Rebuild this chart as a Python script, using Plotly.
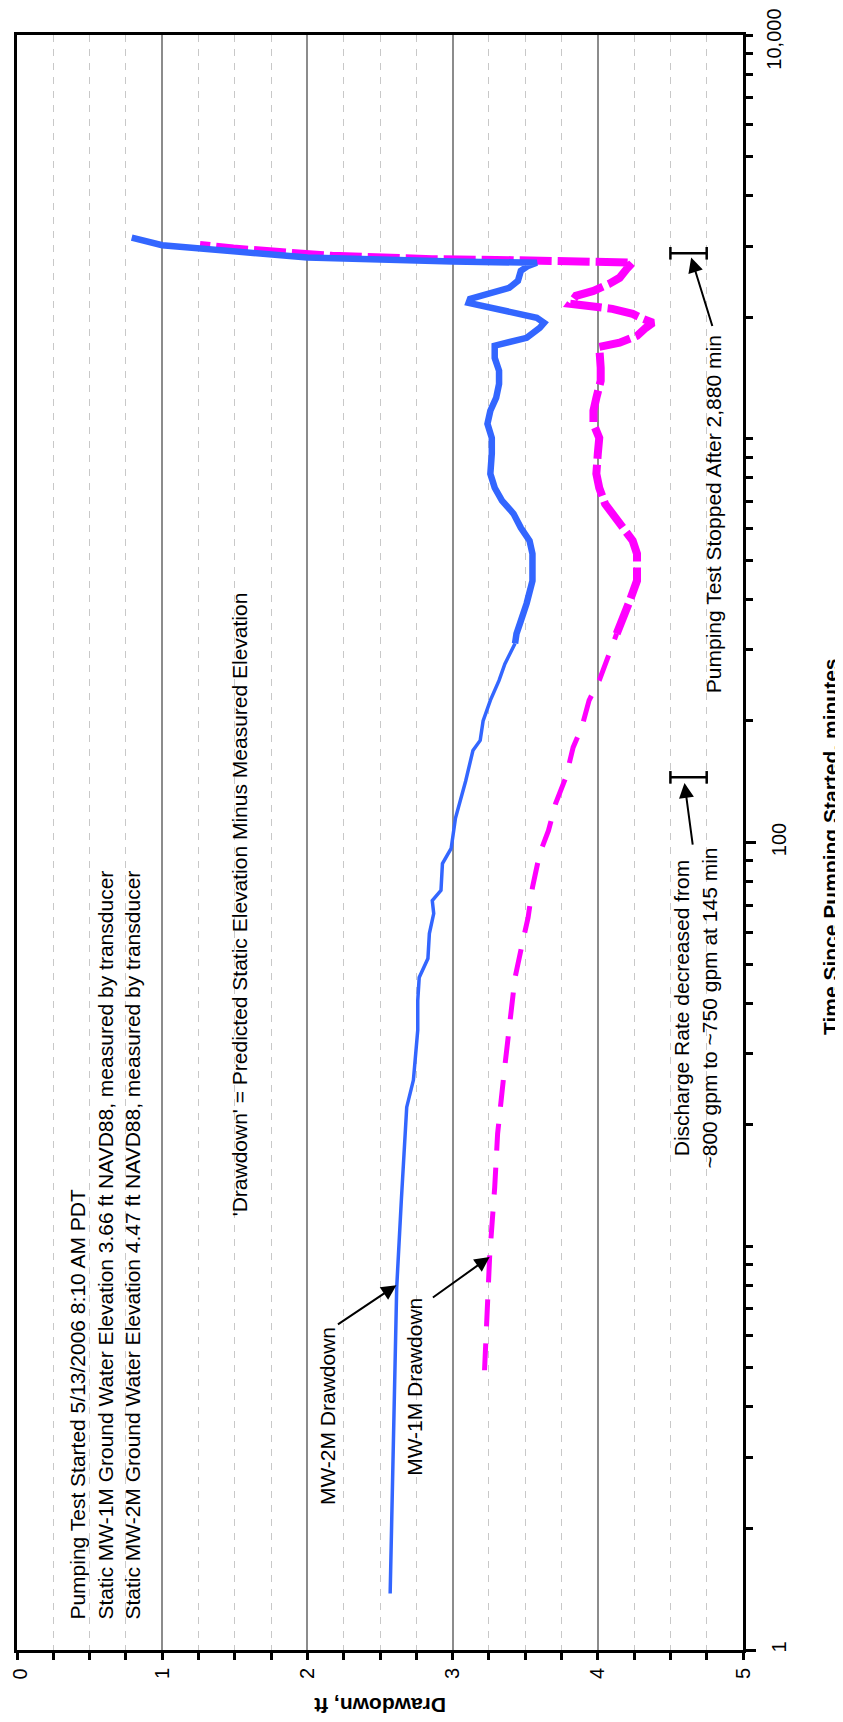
import plotly.graph_objects as go

# ---------------- data ----------------
# MW-2M drawdown (time in minutes, drawdown in ft)
mw2m_time = [1.38, 2.1, 4.16, 7.9, 13.0, 22.1, 25.8, 31.8, 34.3, 40.6, 46.3, 51.6, 59.5,
             66.7, 71.8, 76.1, 88.7, 96.7, 115, 142, 169, 179, 200, 225, 252, 277, 311,
             329, 354, 391, 445, 519, 559, 602, 652, 703, 756, 819, 918, 1005, 1089,
             1173, 1263, 1368, 1473, 1586, 1700, 1729, 1778, 1882, 1937, 1993, 2050,
             2110, 2171, 2221, 2287, 2364, 2461, 2606, 2680, 2728, 2747, 2811, 3016, 3148]
mw2m_drawdown = [2.57, 2.58, 2.60, 2.615, 2.647, 2.684, 2.73, 2.753, 2.76, 2.76, 2.77, 2.83,
                 2.84, 2.87, 2.86, 2.92, 2.93, 2.99, 3.02, 3.09, 3.14, 3.19, 3.21, 3.26,
                 3.32, 3.36, 3.43, 3.44, 3.47, 3.51, 3.55, 3.55, 3.53, 3.47, 3.42, 3.34,
                 3.29, 3.26, 3.27, 3.27, 3.24, 3.26, 3.30, 3.32, 3.32, 3.29, 3.29, 3.37,
                 3.51, 3.60, 3.63, 3.58, 3.42, 3.23, 3.11, 3.12, 3.23, 3.39, 3.45, 3.47,
                 3.52, 3.58, 3.00, 2.00, 1.00, 0.79]

# MW-1M drawdown
mw1m_time = [4.93, 9.41, 14.0, 19.0, 27.0, 36.5, 46.3, 56.2, 65.2, 77.4, 93.9, 107, 125,
             145, 172, 193, 225, 252, 287, 329, 375, 397, 445, 519, 559, 602, 652, 690,
             756, 819, 918, 1005, 1089, 1173, 1263, 1392, 1499, 1623, 1688, 1729, 1798,
             1882, 1937, 1982, 2039, 2098, 2135, 2159, 2260, 2324, 2420, 2504, 2636,
             2731, 2769, 2785, 2838, 2892, 2958, 3020]
mw1m_drawdown = [3.22, 3.255, 3.29, 3.31, 3.355, 3.40, 3.43, 3.48, 3.52, 3.55, 3.60, 3.66,
                 3.71, 3.78, 3.83, 3.89, 3.94, 4.01, 4.07, 4.13, 4.20, 4.22, 4.27, 4.27,
                 4.24, 4.17, 4.10, 4.05, 4.01, 3.99, 4.00, 4.01, 3.97, 3.97, 3.99, 4.02,
                 4.02, 4.01, 4.01, 4.15, 4.27, 4.33, 4.38, 4.31, 4.24, 4.10, 3.97, 3.81,
                 3.85, 3.97, 4.08, 4.15, 4.20, 4.24, 3.41, 2.86, 2.17, 1.79, 1.49, 1.26]

# Event markers (minutes) and the drawdown extent of their marker bars
event_times = [145, 2880]
event_bar_drawdown = [4.5, 4.75]

# Axis ticks
drawdown_ticks = [0, 1, 2, 3, 4, 5]
drawdown_ticktext = ["0", "1", "2", "3", "4", "5"]
time_ticks = [1, 100, 10000]
time_ticktext = ["1", "100", "10,000"]
time_minor_ticks = [m * 10 ** e for e in range(4) for m in range(2, 11)]

# ---------------- styling ----------------
FONT = "Liberation Sans, Arial, sans-serif"
BLUE = "#3366FF"
MAGENTA = "#FF00FF"

fig = go.Figure()

split2 = next(i for i, t in enumerate(mw2m_time) if t >= 300)
split1 = next(i for i, t in enumerate(mw1m_time) if t >= 320)

# MW-1M (dashed magenta)
fig.add_trace(go.Scatter(x=mw1m_drawdown[:split1 + 1], y=mw1m_time[:split1 + 1],
                         mode="lines", line=dict(color=MAGENTA, width=5, dash="27px,17px"),
                         showlegend=False, hoverinfo="skip"))
fig.add_trace(go.Scatter(x=mw1m_drawdown[split1:], y=mw1m_time[split1:],
                         mode="lines", line=dict(color=MAGENTA, width=8, dash="32px,6px"),
                         showlegend=False, hoverinfo="skip"))
# MW-2M (solid blue)
fig.add_trace(go.Scatter(x=mw2m_drawdown[:split2 + 1], y=mw2m_time[:split2 + 1],
                         mode="lines", line=dict(color=BLUE, width=3.5),
                         showlegend=False, hoverinfo="skip"))
fig.add_trace(go.Scatter(x=mw2m_drawdown[split2:], y=mw2m_time[split2:],
                         mode="lines", line=dict(color=BLUE, width=6.5),
                         showlegend=False, hoverinfo="skip"))

# Event bars
for t in event_times:
    fig.add_trace(go.Scatter(x=event_bar_drawdown, y=[t, t], mode="lines+markers",
                             line=dict(color="black", width=2.5),
                             marker=dict(symbol="line-ns", size=9,
                                         line=dict(color="black", width=2.5)),
                             showlegend=False, hoverinfo="skip"))

ann_font = dict(family=FONT, size=21, color="black")
tick_font = dict(family=FONT, size=20, color="black")
annotations = []

def text_ann(text, x, y, xanchor="center", yanchor="middle", align="center",
             xref="x", yref="y", angle=-90, font=ann_font):
    annotations.append(dict(text=text, x=x, y=y, xref=xref, yref=yref, showarrow=False,
                            textangle=angle, xanchor=xanchor, yanchor=yanchor,
                            align=align, font=font, borderpad=0))

def arrow_ann(hx, hy, tx, ty):
    annotations.append(dict(text="", x=hx, y=hy, ax=tx, ay=ty, xref="x", yref="y",
                            axref="x", ayref="y", showarrow=True, arrowhead=2,
                            arrowsize=1.5, arrowwidth=2, arrowcolor="black"))

text_ann("Pumping Test Started 5/13/2006 8:10 AM PDT<br>"
         "Static MW-1M Ground Water Elevation 3.66 ft NAVD88, measured by transducer<br>"
         "Static MW-2M Ground Water Elevation 4.47 ft NAVD88, measured by transducer",
         0.606, 0.074, xanchor="center", yanchor="bottom", align="left")
text_ann("'Drawdown' = Predicted Static Elevation Minus Measured Elevation", 1.535, 1.8465)
text_ann("MW-2M Drawdown", 2.134, 0.579)
text_ann("MW-1M Drawdown", 2.732, 0.651)
text_ann("Discharge Rate decreased from<br>~800 gpm to ~750 gpm at 145 min", 4.673, 1.590)
text_ann("Pumping Test Stopped After 2,880 min", 4.797, 2.812)

arrow_ann(2.613, 0.9035, 2.20, 0.804)
arrow_ann(3.255, 0.9736, 2.854, 0.8705)
arrow_ann(4.597, 2.1475, 4.655, 1.991)
arrow_ann(4.643, 3.449, 4.792, 3.2755)

title_font = dict(family=FONT, size=21, color="black")
text_ann("<b>Time Since Pumping Started, minutes</b>", 1.1198, 0.4978,
         xref="paper", yref="paper", font=title_font)
text_ann("<b>Drawdown, ft</b>", 0.5, -0.0347, xref="paper", yref="paper",
         angle=180, font=title_font)

# The first drawdown label and the last time label would run past the figure edges
# if centred on their ticks, so they are drawn as texts anchored to those edges.
top_label = time_ticktext[-1]
axis_time_ticktext = time_ticktext[:-1] + [""]
text_ann(top_label, 1.0415, 1.0167, xref="paper", yref="paper",
         xanchor="center", yanchor="top", font=tick_font)
first_label = drawdown_ticktext[0]
axis_drawdown_ticktext = [""] + drawdown_ticktext[1:]
text_ann(first_label, -0.0124, -0.0105, xref="paper", yref="paper",
         xanchor="left", yanchor="top", font=tick_font)

# The page body adds an 8 px offset, so the figure is 8 px smaller than the window.
fig.update_layout(
    template="none",
    width=835, height=1714, autosize=False,
    margin=dict(l=9, r=100, t=27, b=72, pad=0),
    paper_bgcolor="white", plot_bgcolor="white",
    font=dict(family=FONT, size=20, color="black"),
    showlegend=False,
    annotations=annotations,
    xaxis=dict(range=[0, 5], tickmode="array", tickvals=drawdown_ticks,
               ticktext=axis_drawdown_ticktext, tickangle=-90, ticks="outside", ticklen=7,
               tickwidth=2.5, tickcolor="black", showline=True, linewidth=2.5,
               linecolor="black", mirror=True, zeroline=False, automargin=False,
               ticklabeloverflow="allow",
               showgrid=True, gridcolor="#8c8c8c", gridwidth=1.5,
               tickfont=tick_font,
               minor=dict(tick0=0, dtick=0.25, ticks="outside", ticklen=7, tickwidth=2.5,
                          tickcolor="black", showgrid=True, gridcolor="#c8c8c8",
                          gridwidth=1, griddash="7px,7px")),
    yaxis=dict(type="log", range=[0, 4], side="right", tickmode="array",
               tickvals=time_ticks, ticktext=axis_time_ticktext, tickangle=-90,
               ticks="outside", ticklen=10, tickwidth=2.5, tickcolor="black",
               showline=True, linewidth=2.5, linecolor="black", mirror=True,
               showgrid=False, zeroline=False, ticklabelstandoff=6, automargin=False,
               ticklabeloverflow="allow",
               tickfont=tick_font,
               minor=dict(tickmode="array", tickvals=time_minor_ticks, ticks="outside",
                          ticklen=7, tickwidth=2.5, tickcolor="black", showgrid=False)),
)

fig.write_html("out.html")
